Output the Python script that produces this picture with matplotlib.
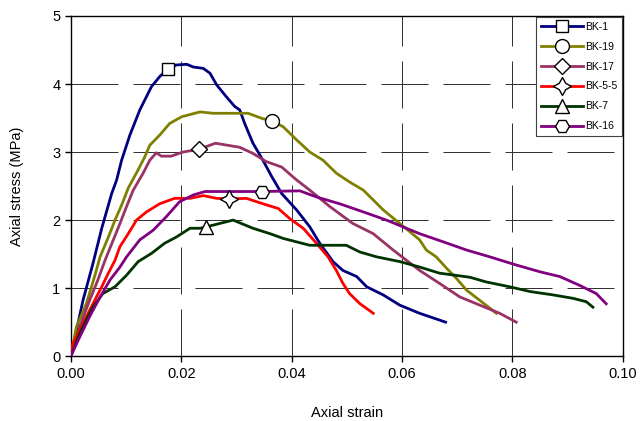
import matplotlib.pyplot as plt
from matplotlib.lines import Line2D

plt.rcParams['font.family'] = ['Liberation Sans', 'DejaVu Sans']

# BK-1
bk1_x = [0.0, 0.0022, 0.0040, 0.0056, 0.0074, 0.0083, 0.0092, 0.0107, 0.0125, 0.0146, 0.0161,
         0.0176, 0.0191, 0.0210, 0.0222, 0.0240, 0.0252, 0.0264, 0.0282, 0.0297, 0.0306, 0.0315,
         0.0330, 0.0348, 0.0364, 0.0382, 0.0409, 0.0433, 0.0451, 0.0475, 0.0493, 0.0518, 0.0536,
         0.0566, 0.0596, 0.0632, 0.0679]
bk1_y = [0.0, 0.82, 1.36, 1.88, 2.39, 2.59, 2.88, 3.25, 3.62, 3.96, 4.11,
         4.22, 4.28, 4.29, 4.25, 4.23, 4.16, 3.99, 3.81, 3.67, 3.62, 3.42,
         3.13, 2.88, 2.64, 2.39, 2.15, 1.90, 1.66, 1.39, 1.26, 1.17, 1.02,
         0.90, 0.75, 0.63, 0.50]
# BK-19
bk19_x = [0.0, 0.0010, 0.0028, 0.0043, 0.0053, 0.0068, 0.0080, 0.0092, 0.0104, 0.0122, 0.0134,
          0.0143, 0.0161, 0.0179, 0.0201, 0.0234, 0.0258, 0.0306, 0.0321, 0.0348, 0.0365, 0.0385,
          0.0409, 0.0433, 0.0457, 0.0481, 0.0505, 0.0530, 0.0566, 0.0596, 0.0632, 0.0644, 0.0662,
          0.0681, 0.0699, 0.0717, 0.0741, 0.0771]
bk19_y = [0.0, 0.43, 0.77, 1.17, 1.46, 1.75, 2.00, 2.22, 2.47, 2.74, 2.93,
          3.10, 3.25, 3.42, 3.52, 3.59, 3.57, 3.57, 3.57, 3.49, 3.46, 3.37,
          3.18, 3.00, 2.88, 2.69, 2.56, 2.44, 2.15, 1.95, 1.71, 1.56, 1.46,
          1.29, 1.14, 0.97, 0.82, 0.63]
# BK-17
bk17_x = [0.0, 0.0016, 0.0034, 0.0049, 0.0062, 0.0077, 0.0089, 0.0101, 0.0113, 0.0131, 0.0143,
          0.0155, 0.0164, 0.0182, 0.0203, 0.0232, 0.0262, 0.0306, 0.0330, 0.0354, 0.0382, 0.0409,
          0.0433, 0.0469, 0.0511, 0.0548, 0.0584, 0.0632, 0.0668, 0.0705, 0.0741, 0.0777, 0.0807]
bk17_y = [0.0, 0.43, 0.82, 1.12, 1.41, 1.71, 1.95, 2.20, 2.44, 2.69, 2.88,
          2.99, 2.94, 2.94, 3.00, 3.04, 3.13, 3.07, 2.98, 2.86, 2.78, 2.59,
          2.44, 2.20, 1.95, 1.80, 1.56, 1.26, 1.07, 0.87, 0.75, 0.63, 0.50]
# BK-5-5
bk55_x = [0.0, 0.0004, 0.0022, 0.0040, 0.0056, 0.0068, 0.0080, 0.0089, 0.0104, 0.0119, 0.0137,
          0.0161, 0.0188, 0.0216, 0.0240, 0.0264, 0.0286, 0.0318, 0.0348, 0.0376, 0.0397, 0.0421,
          0.0445, 0.0466, 0.0481, 0.0493, 0.0505, 0.0524, 0.0548]
bk55_y = [0.0, 0.19, 0.48, 0.77, 1.02, 1.22, 1.41, 1.61, 1.80, 2.00, 2.12,
          2.24, 2.32, 2.32, 2.36, 2.32, 2.31, 2.32, 2.24, 2.17, 2.02, 1.88,
          1.66, 1.46, 1.26, 1.07, 0.92, 0.77, 0.63]
# BK-7
bk7_x = [0.0, 0.0016, 0.0028, 0.0040, 0.0058, 0.0080, 0.0101, 0.0122, 0.0146, 0.0170, 0.0191,
         0.0216, 0.0234, 0.0245, 0.0294, 0.0330, 0.0361, 0.0385, 0.0409, 0.0433, 0.0499, 0.0524,
         0.0554, 0.0596, 0.0632, 0.0668, 0.0723, 0.0753, 0.0795, 0.0832, 0.0874, 0.0910, 0.0934,
         0.0946]
bk7_y = [0.0, 0.33, 0.53, 0.72, 0.92, 1.02, 1.19, 1.39, 1.51, 1.66, 1.75,
         1.88, 1.88, 1.90, 2.00, 1.88, 1.80, 1.73, 1.68, 1.63, 1.63, 1.53,
         1.46, 1.39, 1.31, 1.22, 1.16, 1.09, 1.02, 0.95, 0.90, 0.85, 0.80,
         0.72]
# BK-16
bk16_x = [0.0, 0.0016, 0.0034, 0.0053, 0.0071, 0.0089, 0.0101, 0.0125, 0.0149, 0.0173, 0.0197,
          0.0222, 0.0243, 0.0346, 0.0415, 0.0445, 0.0487, 0.0530, 0.0572, 0.0632, 0.0675, 0.0717,
          0.0759, 0.0807, 0.0850, 0.0886, 0.0922, 0.0952, 0.0970]
bk16_y = [0.0, 0.28, 0.58, 0.87, 1.12, 1.31, 1.46, 1.71, 1.85, 2.05, 2.27,
          2.37, 2.42, 2.42, 2.43, 2.34, 2.24, 2.12, 2.00, 1.80, 1.68, 1.56,
          1.46, 1.34, 1.24, 1.17, 1.04, 0.92, 0.77]

series = [
    ("BK-1", bk1_x, bk1_y, 11, "#000080", "s"),
    ("BK-19", bk19_x, bk19_y, 20, "#808000", "o"),
    ("BK-17", bk17_x, bk17_y, 15, "#993366", "D"),
    ("BK-5-5", bk55_x, bk55_y, 16, "#ff0000", (4, 1, 0)),
    ("BK-7", bk7_x, bk7_y, 13, "#003300", "^"),
    ("BK-16", bk16_x, bk16_y, 13, "#800080", "H"),
]
msize = {"s": 9, "o": 10, "D": 8, (4, 1, 0): 13, "^": 10, "H": 10}

fig = plt.figure(figsize=(6.44, 4.21), dpi=100)
ax = fig.add_axes([0.110, 0.154, 0.857, 0.808])

handles = []
for name, xs, ys, mi, col, mk in series:
    ax.plot(xs, ys, color=col, linewidth=2, zorder=3)
    ax.plot(xs[mi], ys[mi], linestyle='none', marker=mk, markersize=msize[mk],
            markerfacecolor='white', markeredgecolor='black', markeredgewidth=1, zorder=4)
    handles.append(Line2D([], [], color=col, linewidth=2, marker=mk, markersize=msize[mk],
                          markerfacecolor='white', markeredgecolor='black', markeredgewidth=1,
                          label=name))

ax.set_xlim(0, 0.10)
ax.set_ylim(0, 5)
ax.set_xticks([0.0, 0.02, 0.04, 0.06, 0.08, 0.10])
ax.set_xticklabels(["0.00", "0.02", "0.04", "0.06", "0.08", "0.10"])
ax.set_yticks([0, 1, 2, 3, 4, 5])
ax.grid(True, color='#333333', linewidth=0.72, linestyle=(0, (47, 15)), zorder=1)
ax.tick_params(direction='out', length=4, width=1, labelsize=10.5, colors='black')
for s in ax.spines.values():
    s.set_linewidth(1)
    s.set_color('black')

ax.set_xlabel("Axial strain", fontsize=10.5, labelpad=18)
ax.set_ylabel("Axial stress (MPa)", fontsize=10.5, labelpad=20)

leg = ax.legend(handles=handles, loc='upper right', fontsize=7.5, handlelength=4.0,
                labelspacing=0.95, borderaxespad=0.1, handletextpad=0.2,
                fancybox=False, framealpha=1, borderpad=0.45)
leg.get_frame().set_edgecolor('#404040')
leg.get_frame().set_linewidth(0.8)

fig.savefig("out.png", dpi=100)
